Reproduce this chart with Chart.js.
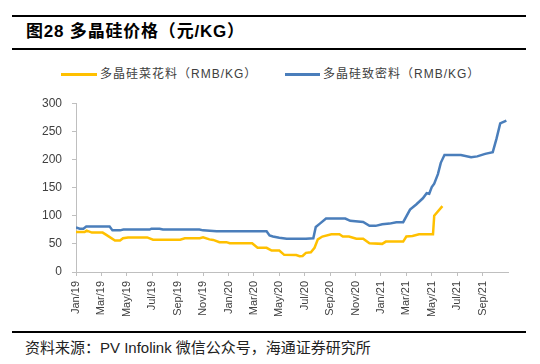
<!DOCTYPE html>
<html>
<head>
<meta charset="utf-8">
<script src="https://cdn.jsdelivr.net/npm/chart.js@4.4.1/dist/chart.umd.min.js"></script>
<style>
  html, body { margin: 0; padding: 0; background: #ffffff; }
  #wrap { position: relative; width: 540px; height: 364px; overflow: hidden; background: #fff;
          font-family: "Liberation Sans", "Noto Sans CJK SC", sans-serif; }
  .rule { position: absolute; left: 12px; width: 514px; height: 1.5px; background: #000; }
  #title { position: absolute; left: 26px; top: 20px; font-size: 17px; font-weight: bold; line-height: 24px;
           letter-spacing: 0.8px; color: #000; white-space: nowrap; }
  #source { position: absolute; left: 25px; top: 338px; font-size: 15px; line-height: 20px; color: #222; white-space: nowrap; }
  #legend { position: absolute; left: 0; top: 64px; width: 540px; height: 20px; }
  .lg-line { position: absolute; height: 2.5px; top: 9px; }
  .lg-text { position: absolute; top: 2px; font-size: 12px; line-height: 16px; letter-spacing: 1px; color: #404040; white-space: nowrap; }
  #chartBox { position: absolute; left: 0; top: 86px; width: 540px; height: 236px; }
</style>
</head>
<body>
<div id="wrap">
  <div class="rule" style="top:15px"></div>
  <div id="title">图28 多晶硅价格（元/KG）</div>
  <div class="rule" style="top:48px"></div>
  <div id="legend"></div>
  <div id="chartBox"><canvas id="c" width="540" height="236"></canvas></div>
  <div class="rule" style="top:331px"></div>
  <div id="source">资料来源：PV Infolink 微信公众号，海通证券研究所</div>
</div>
<script>
// ---- data ----
const seriesNames = ['多晶硅菜花料（RMB/KG）', '多晶硅致密料（RMB/KG）'];

const cauliDates = ['2019-01-01','2019-01-22','2019-01-27','2019-02-08','2019-03-04','2019-03-13','2019-04-03','2019-04-15',
  '2019-04-22','2019-05-04','2019-06-19','2019-07-03','2019-09-07','2019-09-18','2019-10-24','2019-11-01','2019-11-16',
  '2019-11-25','2019-12-10','2019-12-27','2020-01-04','2020-02-26','2020-03-10','2020-04-01','2020-04-13','2020-05-01',
  '2020-05-13','2020-06-11','2020-06-19','2020-06-26','2020-07-04','2020-07-16','2020-07-25','2020-08-02','2020-08-13',
  '2020-09-04','2020-09-23','2020-10-01','2020-10-16','2020-11-03','2020-11-19','2020-12-04','2021-01-04','2021-01-13',
  '2021-02-22','2021-03-01','2021-03-16','2021-04-01','2021-05-04','2021-05-07','2021-05-27'];
const cauliValues = [71,71,73.5,70,70,66,56,56,
  60,61.5,61.5,57.5,57.5,60,60,61.5,58,
  57,53,53,51,51,43,43,38,38,
  30.5,30,28,28.5,34,35,43,58,63,
  67,67,63,63,59,59,51,50,54,
  54,63,64,67,67,100,117];

const denseDates = ['2019-01-01','2019-01-10','2019-01-19','2019-01-26','2019-03-21','2019-03-28','2019-04-15','2019-04-23',
  '2019-06-25','2019-06-29','2019-07-19','2019-07-27','2019-10-23','2019-11-01','2019-11-25','2019-12-03','2020-04-01',
  '2020-04-08','2020-04-16','2020-05-01','2020-05-19','2020-07-04','2020-07-22','2020-07-28','2020-08-07','2020-08-22',
  '2020-10-07','2020-10-19','2020-11-19','2020-12-04','2020-12-19','2021-01-04','2021-01-22','2021-02-07','2021-02-22',
  '2021-03-10','2021-03-25','2021-04-10','2021-04-19','2021-04-25','2021-05-01','2021-05-07','2021-05-16','2021-05-23',
  '2021-06-01','2021-07-10','2021-08-04','2021-08-19','2021-09-07','2021-09-25','2021-10-04','2021-10-13','2021-10-28'];
const denseValues = [79,77,77,81,81,74,74,75.5,
  75.5,77,77,75.5,75.5,74,73,72.5,72.5,
  65,63,61,59,59,60,80,86,95,
  95,91,89,82,82,85,86,88.5,88.5,
  111,120,131,140,139,151,157,174,194,
  208,208,204,205.5,210,213,237,264,269];

const tickLabels = ['Jan/19','Mar/19','May/19','Jul/19','Sep/19','Nov/19','Jan/20','Mar/20','May/20',
  'Jul/20','Sep/20','Nov/20','Jan/21','Mar/21','May/21','Jul/21','Sep/21'];

const yMin = 0, yMax = 300, yStep = 50;
const colors = ['#FFC000', '#4A7EBB'];

// month offset from Jan 2019
function toMonth(s) {
  const [y, m, d] = s.split('-').map(Number);
  const dim = new Date(y, m, 0).getDate();
  return (y - 2019) * 12 + (m - 1) + (d - 1) / dim;
}
function pts(dates, vals) { return dates.map((d, i) => ({ x: toMonth(d), y: vals[i] })); }

const axisColor = '#BFBFBF';
const tickFont = { family: '"Liberation Sans", Arial, sans-serif' };

const chart = new Chart(document.getElementById('c'), {
  type: 'line',
  data: {
    datasets: [
      { label: seriesNames[0], data: pts(cauliDates, cauliValues), borderColor: colors[0], backgroundColor: colors[0],
        borderWidth: 2.5, pointRadius: 0, tension: 0, fill: false },
      { label: seriesNames[1], data: pts(denseDates, denseValues), borderColor: colors[1], backgroundColor: colors[1],
        borderWidth: 2.5, pointRadius: 0, tension: 0, fill: false }
    ]
  },
  options: {
    responsive: false,
    animation: false,
    layout: { padding: { left: 40, right: 32, top: 10, bottom: 0 } },
    plugins: { legend: { display: false }, tooltip: { enabled: false } },
    scales: {
      x: {
        type: 'linear', min: 0, max: (tickLabels.length) * 2,
        afterBuildTicks: (s) => { s.ticks = s.ticks.filter(t => t.value < tickLabels.length * 2); },
        afterFit: (s) => { s.height = 50; },
        ticks: { stepSize: 2, autoSkip: false, maxRotation: 90, minRotation: 90, padding: 5,
                 color: '#404040', font: Object.assign({ size: 11 }, tickFont),
                 callback: (v) => tickLabels[Math.round(v / 2)] || '' },
        grid: { drawOnChartArea: false, drawTicks: true, tickLength: 4, color: axisColor },
        border: { display: true, color: axisColor, width: 1 }
      },
      y: {
        min: yMin, max: yMax,
        afterFit: (s) => { s.width = 36; },
        ticks: { stepSize: yStep, padding: 10, color: '#404040', font: Object.assign({ size: 12 }, tickFont) },
        grid: { drawOnChartArea: false, drawTicks: true, tickLength: 4, color: axisColor },
        border: { display: true, color: axisColor, width: 1 }
      }
    }
  }
});

// legend built from the chart datasets
const legendPos = [{ line: 61, w: 36, text: 100 }, { line: 285, w: 35, text: 323 }];
const lg = document.getElementById('legend');
chart.data.datasets.forEach((ds, i) => {
  const l = document.createElement('div');
  l.className = 'lg-line';
  l.style.left = legendPos[i].line + 'px';
  l.style.width = legendPos[i].w + 'px';
  l.style.background = ds.borderColor;
  lg.appendChild(l);
  const t = document.createElement('div');
  t.className = 'lg-text';
  t.style.left = legendPos[i].text + 'px';
  t.textContent = ds.label;
  lg.appendChild(t);
});
</script>
</body>
</html>
